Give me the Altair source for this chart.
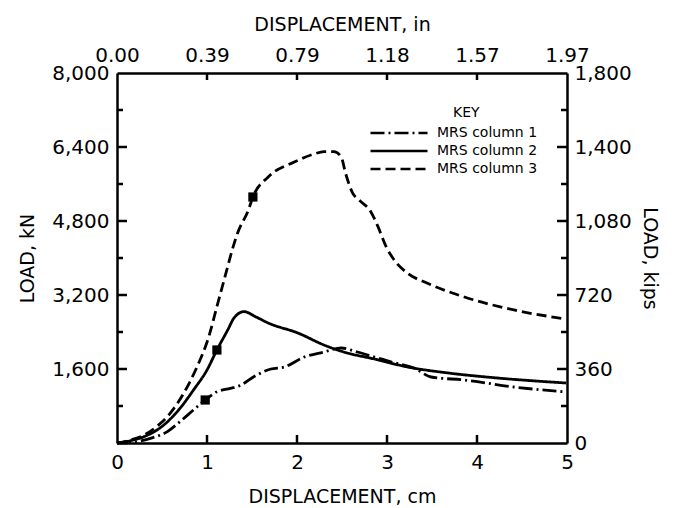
import altair as alt
import pandas as pd

# ---------------- data ----------------
series_names = ["MRS column 1", "MRS column 2", "MRS column 3"]

c1_x = [0, 0.2, 0.37, 0.56, 0.70, 0.85, 0.98, 1.11, 1.26, 1.38, 1.52, 1.71, 1.86,
        2.08, 2.30, 2.49, 2.67, 2.86, 3.05, 3.30, 3.49, 3.86, 4.41, 4.99]
c1_y = [0, 25, 101, 245, 462, 714, 930, 1108, 1180, 1254, 1433, 1600, 1643,
        1859, 1968, 2054, 1968, 1859, 1750, 1622, 1427, 1362, 1211, 1103]

c2_x = [0, 0.15, 0.30, 0.52, 0.70, 0.85, 1.00, 1.11, 1.23, 1.30, 1.41, 1.55, 1.68,
        2.01, 2.30, 2.52, 2.86, 3.23, 3.68, 4.23, 4.99]
c2_y = [0, 50, 137, 389, 750, 1146, 1579, 2011, 2443, 2703, 2840, 2720, 2595,
        2378, 2119, 1968, 1816, 1643, 1514, 1405, 1297]

c3_x = [0, 0.15, 0.30, 0.44, 0.59, 0.74, 0.89, 1.02, 1.11, 1.22, 1.28, 1.34, 1.46,
        1.51, 1.68, 1.97, 2.19, 2.30, 2.41, 2.49, 2.54, 2.62, 2.69, 2.82, 2.90,
        2.99, 3.08, 3.23, 3.45, 3.86, 4.41, 4.99]
c3_y = [0, 65, 173, 353, 642, 1073, 1650, 2299, 2948, 3741, 4173, 4540, 5038,
        5319, 5751, 6075, 6250, 6300, 6300, 6191, 5830, 5398, 5254, 5002, 4677,
        4245, 3957, 3669, 3453, 3157, 2876, 2681]

marker_x = [0.98, 1.11, 1.51]
marker_y = [930, 2011, 5319]

bottom_ticks = [0, 1, 2, 3, 4, 5]
bottom_labels = ["0", "1", "2", "3", "4", "5"]
top_ticks = [0, 1, 2, 3, 4, 5]
top_labels = ["0.00", "0.39", "0.79", "1.18", "1.57", "1.97"]
left_major = [1600, 3200, 4800, 6400, 8000]
left_labels = ["1,600", "3,200", "4,800", "6,400", "8,000"]
left_minor = [800, 2400, 4000, 5600, 7200]
right_major = [0, 360, 720, 1080, 1440, 1800]
right_labels = ["0", "360", "720", "1,080", "1,400", "1,800"]
right_minor = [180, 540, 900, 1260, 1620]

dash_styles = [[14, 4, 2, 4], [1, 0], [10, 5]]

# ---------------- tables ----------------
rows = []
for name, xs, ys in zip(series_names, [c1_x, c2_x, c3_x], [c1_y, c2_y, c3_y]):
    for xv, yv in zip(xs, ys):
        rows.append({"series": name, "cm": xv, "kN": yv})
df = pd.DataFrame(rows)
mdf = pd.DataFrame({"cm": marker_x, "kN": marker_y})

x_min, x_max = bottom_ticks[0], bottom_ticks[-1]
kn_max = left_major[-1]
kips_max = right_major[-1]

PLOT_W, PLOT_H = 450, 370
# inward tick lengths (pixels) converted into data units of each scale
px_cm = (x_max - x_min) / PLOT_W
px_kn = kn_max / PLOT_H
kips_to_kn = kn_max / kips_max

tick_rows = []
seg = 0
for v in left_major[:-1]:
    tick_rows += [{"seg": seg, "cm": x_min, "kN": v},
                  {"seg": seg, "cm": x_min + 10 * px_cm, "kN": v}]
    seg += 1
for v in left_minor:
    tick_rows += [{"seg": seg, "cm": x_min, "kN": v},
                  {"seg": seg, "cm": x_min + 6 * px_cm, "kN": v}]
    seg += 1
for v in right_major[1:-1]:
    tick_rows += [{"seg": seg, "cm": x_max, "kN": v * kips_to_kn},
                  {"seg": seg, "cm": x_max - 10 * px_cm, "kN": v * kips_to_kn}]
    seg += 1
for v in right_minor:
    tick_rows += [{"seg": seg, "cm": x_max, "kN": v * kips_to_kn},
                  {"seg": seg, "cm": x_max - 6 * px_cm, "kN": v * kips_to_kn}]
    seg += 1
for v in bottom_ticks[1:-1]:
    tick_rows += [{"seg": seg, "cm": v, "kN": 0},
                  {"seg": seg, "cm": v, "kN": 8 * px_kn}]
    seg += 1
for v in top_ticks[1:-1]:
    tick_rows += [{"seg": seg, "cm": v, "kN": kn_max},
                  {"seg": seg, "cm": v, "kN": kn_max - 7 * px_kn}]
    seg += 1
tick_df = pd.DataFrame(tick_rows)
dummy_df = pd.DataFrame({"cm_top": [x_min, x_max], "kips": [0, kips_max]})

FONT = "DejaVu Sans"


def chain(vals, labels):
    expr = "''"
    for v, l in reversed(list(zip(vals, labels))):
        expr = f"datum.value == {v} ? '{l}' : ({expr})"
    return expr


common = dict(
    ticks=False, grid=False,
    domainColor="black", domainWidth=2.5, labelFont=FONT, labelFontSize=20,
    labelColor="black", titleFont=FONT, titleFontSize=19,
    titleFontWeight="normal", titleColor="black", labelFlush=False,
    labelOverlap=False, labelBound=False,
)

x_scale = alt.Scale(domain=[x_min, x_max], nice=False)
kn_scale = alt.Scale(domain=[0, kn_max], nice=False)
kips_scale = alt.Scale(domain=[0, kips_max], nice=False)

x_bottom = alt.X("cm:Q", scale=x_scale,
                 axis=alt.Axis(orient="bottom", values=bottom_ticks,
                               labelExpr=chain(bottom_ticks, bottom_labels),
                               title="DISPLACEMENT, cm", labelPadding=9,
                               titlePadding=15, **common))
y_left = alt.Y("kN:Q", scale=kn_scale,
               axis=alt.Axis(orient="left", values=left_major,
                             labelExpr=chain(left_major, left_labels),
                             title="LOAD, kN", labelPadding=8,
                             titlePadding=14, **common))

lines = alt.Chart(df).mark_line(color="black", strokeWidth=2.8,
                                interpolate="monotone").encode(
    x=x_bottom,
    y=y_left,
    strokeDash=alt.StrokeDash(
        "series:N",
        scale=alt.Scale(domain=series_names, range=dash_styles),
        legend=alt.Legend(
            title="KEY", orient="none", legendX=252, legendY=33,
            symbolType="stroke", symbolSize=3249, symbolStrokeWidth=2.6,
            symbolStrokeColor="black", labelFont=FONT, labelFontSize=14,
            labelColor="black", titleFont=FONT, titleFontSize=14,
            titleFontWeight="normal", titleColor="black",
            titleAnchor="middle", titleAlign="left", labelOffset=8,
            clipHeight=16, rowPadding=2, titlePadding=5,
        ),
    ),
)

tick_lines = alt.Chart(tick_df).mark_line(
    color="black", strokeWidth=2.5, strokeCap="butt").encode(
    x=alt.X("cm:Q"), y=alt.Y("kN:Q"), detail="seg:N")

markers = alt.Chart(mdf).mark_square(color="black", size=85, opacity=1).encode(
    x=alt.X("cm:Q"), y=alt.Y("kN:Q"))

dummy = alt.Chart(dummy_df).mark_point(opacity=0).encode(
    x=alt.X("cm_top:Q", scale=x_scale,
            axis=alt.Axis(orient="top", values=top_ticks,
                          labelExpr=chain(top_ticks, top_labels),
                          title="DISPLACEMENT, in", labelPadding=8,
                          titlePadding=11, **common)),
    y=alt.Y("kips:Q", scale=kips_scale,
            axis=alt.Axis(orient="right", values=right_major,
                          labelExpr=chain(right_major, right_labels),
                          title="LOAD, kips", labelPadding=7,
                          titlePadding=8, **common)),
)

kn_group = alt.layer(lines, tick_lines, markers)

chart = alt.layer(kn_group, dummy).resolve_scale(
    x="independent", y="independent"
).properties(
    width=PLOT_W, height=PLOT_H,
    padding={"left": 10, "top": 7, "right": 3, "bottom": 0},
    background="white",
).configure_view(stroke=None)

chart.save("out.html", embed_options={"renderer": "svg", "actions": False})
